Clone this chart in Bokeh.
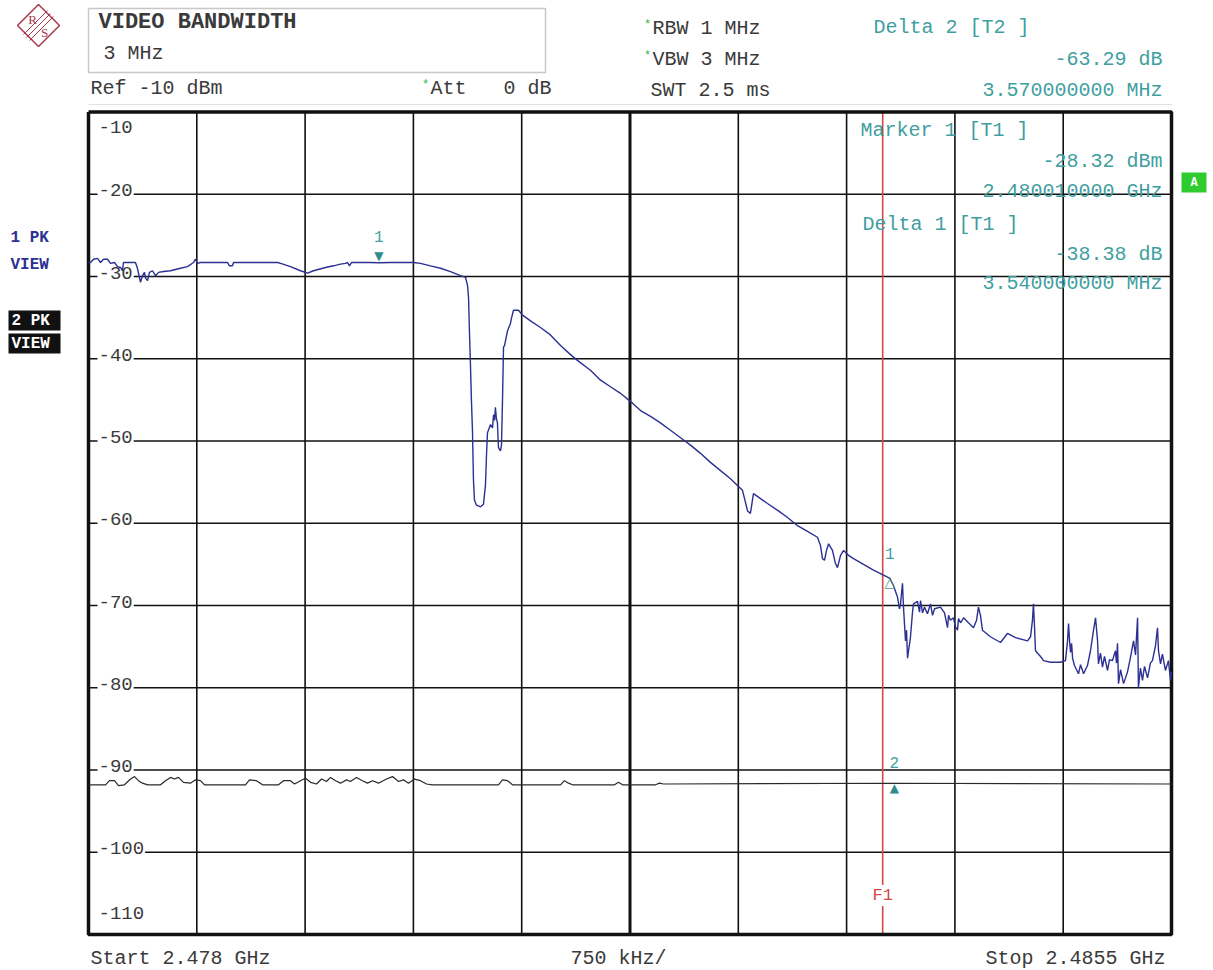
from bokeh.plotting import figure
from bokeh.models import Range1d
from bokeh.core.properties import value
from bokeh.embed import file_html
from bokeh.resources import INLINE

# ---------------- instrument settings ----------------
f_start_mhz = 2478.0
f_stop_mhz = 2485.5
f_span_div_mhz = 0.75
ref_level_dbm = -10.0
db_per_div = 10.0
n_div = 10
f1_line_mhz = 2483.5

# ---------------- trace 1 (clear/write, peak) ----------------
t1_freq_mhz = [
    2478.000, 2478.014, 2478.035, 2478.062, 2478.083, 2478.104, 2478.132, 2478.152,
    2478.180, 2478.201, 2478.222, 2478.235, 2478.242, 2478.277, 2478.305, 2478.325,
    2478.339, 2478.360, 2478.374, 2478.388, 2478.395, 2478.409, 2478.422, 2478.443,
    2478.464, 2478.485, 2478.519, 2478.568, 2478.637, 2478.686, 2478.727, 2478.741,
    2478.755, 2478.776, 2478.845, 2478.963, 2478.976, 2478.997, 2479.004, 2479.122,
    2479.309, 2479.330, 2479.399, 2479.468, 2479.517, 2479.558, 2479.641, 2479.697,
    2479.745, 2479.780, 2479.794, 2479.807, 2479.821, 2479.835, 2479.953, 2480.010,
    2480.091, 2480.251, 2480.299, 2480.368, 2480.438, 2480.507, 2480.576, 2480.611,
    2480.625, 2480.632, 2480.638, 2480.645, 2480.652, 2480.659, 2480.666, 2480.673,
    2480.687, 2480.715, 2480.735, 2480.749, 2480.756, 2480.763, 2480.784, 2480.798,
    2480.805, 2480.812, 2480.818, 2480.825, 2480.832, 2480.839, 2480.853, 2480.860,
    2480.867, 2480.874, 2480.881, 2480.895, 2480.902, 2480.909, 2480.922, 2480.929,
    2480.943, 2480.978, 2480.992, 2481.006, 2481.061, 2481.130, 2481.199, 2481.269,
    2481.338, 2481.386, 2481.476, 2481.546, 2481.615, 2481.684, 2481.767, 2481.823,
    2481.892, 2481.961, 2482.030, 2482.100, 2482.169, 2482.238, 2482.307, 2482.377,
    2482.446, 2482.494, 2482.529, 2482.550, 2482.564, 2482.584, 2482.598, 2482.605,
    2482.654, 2482.702, 2482.778, 2482.841, 2482.910, 2482.979, 2483.048, 2483.069,
    2483.083, 2483.097, 2483.111, 2483.125, 2483.152, 2483.173, 2483.187, 2483.208,
    2483.229, 2483.263, 2483.298, 2483.367, 2483.436, 2483.506, 2483.550, 2483.575,
    2483.603, 2483.616, 2483.623, 2483.637, 2483.644, 2483.658, 2483.665, 2483.672,
    2483.679, 2483.692, 2483.706, 2483.713, 2483.741, 2483.755, 2483.762, 2483.776,
    2483.789, 2483.810, 2483.831, 2483.845, 2483.859, 2483.900, 2483.928, 2483.949,
    2483.956, 2483.969, 2483.990, 2484.004, 2484.018, 2484.025, 2484.039, 2484.060,
    2484.094, 2484.129, 2484.150, 2484.163, 2484.177, 2484.191, 2484.246, 2484.316,
    2484.364, 2484.420, 2484.503, 2484.524, 2484.537, 2484.544, 2484.551, 2484.558,
    2484.593, 2484.614, 2484.662, 2484.731, 2484.766, 2484.780, 2484.787, 2484.794,
    2484.801, 2484.808, 2484.815, 2484.828, 2484.856, 2484.870, 2484.891, 2484.918,
    2484.939, 2484.960, 2484.974, 2484.988, 2484.994, 2485.008, 2485.022, 2485.036,
    2485.057, 2485.070, 2485.091, 2485.112, 2485.119, 2485.126, 2485.133, 2485.147,
    2485.168, 2485.195, 2485.216, 2485.237, 2485.251, 2485.265, 2485.271, 2485.285,
    2485.299, 2485.313, 2485.334, 2485.354, 2485.368, 2485.389, 2485.403, 2485.410,
    2485.424, 2485.437, 2485.458, 2485.479, 2485.493, 2485.500,
]
t1_level_dbm = [
    -28.3, -28.3, -27.9, -27.8, -28.3, -27.9, -27.9, -28.4,
    -28.3, -28.8, -28.9, -29.3, -28.3, -28.3, -28.3, -28.3,
    -29.0, -30.7, -29.9, -29.5, -30.2, -30.5, -29.5, -29.3,
    -29.9, -29.5, -29.4, -29.3, -29.0, -28.8, -28.3, -27.9,
    -28.4, -28.3, -28.3, -28.3, -28.7, -28.7, -28.3, -28.3,
    -28.3, -28.4, -28.8, -29.3, -29.6, -29.3, -28.9, -28.7,
    -28.5, -28.4, -28.3, -28.7, -28.3, -28.3, -28.3, -28.32,
    -28.3, -28.3, -28.4, -28.7, -29.0, -29.4, -29.9, -30.1,
    -31.1, -32.6, -36.6, -40.6, -45.1, -48.7, -54.8, -57.2,
    -57.8, -58.0, -57.7, -55.4, -51.8, -49.0, -48.0, -48.4,
    -46.8, -47.5, -45.9, -47.3, -47.8, -50.8, -51.2, -50.5,
    -45.1, -38.6, -38.4, -37.2, -36.6, -36.3, -35.7, -35.1,
    -34.1, -34.1, -34.4, -34.7, -35.4, -36.2, -37.1, -38.4,
    -39.5, -40.2, -41.4, -42.6, -43.4, -44.2, -45.4, -46.3,
    -47.0, -47.8, -48.7, -49.6, -50.5, -51.5, -52.6, -53.6,
    -54.6, -55.4, -56.0, -57.5, -58.5, -58.8, -57.2, -56.4,
    -57.0, -57.6, -58.5, -59.3, -60.3, -61.0, -61.7, -62.7,
    -64.3, -64.5, -63.3, -62.5, -63.3, -64.9, -65.4, -63.9,
    -63.3, -63.9, -64.3, -65.0, -65.7, -66.3, -66.70, -67.6,
    -69.0, -70.4, -69.9, -67.3, -70.2, -74.3, -73.0, -76.4,
    -75.5, -73.9, -70.9, -69.8, -69.5, -70.8, -69.4, -70.9,
    -70.2, -71.0, -69.8, -71.2, -70.4, -70.2, -70.9, -72.7,
    -71.2, -71.8, -71.5, -72.6, -73.0, -71.6, -72.1, -71.5,
    -72.1, -72.7, -71.8, -70.2, -71.2, -73.0, -73.8, -74.5,
    -73.4, -73.9, -74.3, -73.8, -71.8, -69.8, -72.4, -75.5,
    -76.2, -76.7, -76.9, -76.9, -76.7, -74.3, -72.2, -74.3,
    -75.7, -74.6, -76.4, -77.3, -78.3, -77.2, -78.3, -77.3,
    -75.5, -73.0, -71.5, -74.3, -77.1, -75.8, -77.5, -76.2,
    -77.9, -76.6, -76.7, -75.5, -77.0, -74.6, -79.5, -77.8,
    -79.5, -78.1, -76.3, -74.3, -76.0, -71.5, -80.0, -77.6,
    -79.1, -77.4, -78.8, -77.0, -76.7, -74.9, -72.7, -75.5,
    -77.1, -75.9, -77.9, -76.7, -79.1, -78.1,
]

# ---------------- trace 2 (view, noise floor) ----------------
t2_freq_mhz = [
    2478.000, 2478.118, 2478.145, 2478.180, 2478.208, 2478.249, 2478.291, 2478.319,
    2478.346, 2478.374, 2478.409, 2478.499, 2478.533, 2478.568, 2478.596, 2478.623,
    2478.658, 2478.706, 2478.741, 2478.776, 2478.803, 2479.087, 2479.115, 2479.163,
    2479.205, 2479.316, 2479.350, 2479.399, 2479.427, 2479.468, 2479.503, 2479.538,
    2479.579, 2479.614, 2479.648, 2479.676, 2479.711, 2479.745, 2479.787, 2479.814,
    2479.856, 2479.897, 2479.932, 2479.967, 2480.008, 2480.064, 2480.105, 2480.147,
    2480.181, 2480.216, 2480.258, 2480.299, 2480.341, 2480.382, 2480.839, 2480.867,
    2480.902, 2480.936, 2481.269, 2481.296, 2481.324, 2481.352, 2481.643, 2481.670,
    2481.698, 2481.927, 2481.954, 2481.982, 2483.580, 2485.500,
]
t2_level_dbm = [
    -91.8, -91.8, -91.3, -91.3, -91.9, -91.8, -91.1, -90.8,
    -91.3, -91.6, -91.8, -91.8, -91.3, -90.9, -91.1, -90.9,
    -91.5, -91.6, -91.2, -91.3, -91.8, -91.8, -91.2, -91.3,
    -91.8, -91.8, -91.3, -91.3, -91.7, -91.3, -91.0, -91.5,
    -91.7, -91.1, -91.4, -90.9, -91.3, -91.6, -91.2, -91.4,
    -90.9, -91.3, -91.6, -91.3, -91.6, -91.1, -90.8, -91.4,
    -91.2, -91.6, -91.1, -91.3, -91.7, -91.8, -91.8, -91.2,
    -91.3, -91.8, -91.8, -91.3, -91.6, -91.8, -91.8, -91.5,
    -91.8, -91.8, -91.6, -91.7, -91.61, -91.7,
]

# ---------------- markers ----------------
marker_freq_mhz = [2480.010, 2483.550, 2483.580]
marker_level_dbm = [-28.32, -66.70, -91.61]

# ---------------- page geometry (pixels) ----------------
W, H = 1213, 970
FL, FR, FT, FB = 88.0, 1171.0, 111.5, 934.0

top_lvl = ref_level_dbm
bot_lvl = ref_level_dbm - db_per_div * n_div
mhz_per_px = (f_stop_mhz - f_start_mhz) / (FR - FL)
db_per_px = (top_lvl - bot_lvl) / (FB - FT)


def X(px):
    return f_start_mhz + (px - FL) * mhz_per_px


def Y(py):
    return top_lvl - (py - FT) * db_per_px


p = figure(width=W, height=H,
           x_range=Range1d(X(0), X(W)), y_range=Range1d(Y(H), Y(0)),
           min_border=0, x_axis_location=None, y_axis_location=None,
           toolbar_location=None, output_backend="svg")
p.grid.visible = False
p.outline_line_color = None
p.background_fill_color = "white"
p.border_fill_color = "white"

MONO = value("Liberation Mono")
DARK = "#3a3a3a"
TEAL = "#3f9f9f"
NAVY = "#2b3092"
RED = "#d04848"
GREEN = "#3cb043"
FS = "20px"


def txt(px, py, s, color=DARK, align="left", size=FS, style="normal", **kw):
    p.text(x=[X(px)], y=[Y(py)], text=[s], text_font=MONO, text_font_size=size,
           text_color=color, text_align=align, text_baseline="middle",
           text_font_style=style, **kw)


# ---------------- grid ----------------
grid_f = [f_start_mhz + f_span_div_mhz * i for i in range(1, n_div)]
centre_f = f_start_mhz + f_span_div_mhz * (n_div // 2)
thin_f = [f for f in grid_f if abs(f - centre_f) > 1e-9]
p.segment(x0=thin_f, y0=[bot_lvl] * len(thin_f), x1=thin_f, y1=[top_lvl] * len(thin_f),
          line_color="#111111", line_width=1.6)
p.segment(x0=[centre_f], y0=[bot_lvl], x1=[centre_f], y1=[top_lvl],
          line_color="#111111", line_width=3)

grid_lvl = [top_lvl - db_per_div * i for i in range(1, n_div)]
p.segment(x0=[f_start_mhz] * len(grid_lvl), y0=grid_lvl,
          x1=[f_stop_mhz] * len(grid_lvl), y1=grid_lvl,
          line_color="#111111", line_width=1.6)

# level labels
lbl_lvls = [top_lvl - db_per_div * i for i in range(0, n_div + 1)]
for lv in lbl_lvls:
    if lv == top_lvl:
        off = 15
    elif lv == bot_lvl:
        off = -22
    else:
        off = -4
    p.text(x=[X(97)], y=[lv], text=[f"{lv:.0f}"], text_font=MONO, text_font_size="19px",
           text_color=DARK, text_align="left", text_baseline="middle", y_offset=off,
           background_fill_color="white", padding=1)

# F1 frequency line
p.segment(x0=[f1_line_mhz], y0=[bot_lvl], x1=[f1_line_mhz], y1=[top_lvl],
          line_color=RED, line_width=1.6)
p.text(x=[f1_line_mhz], y=[Y(895)], text=["F1"], text_font=MONO, text_font_size="17px",
       text_color=RED, text_align="center", text_baseline="middle",
       background_fill_color="white", padding=1)

# frame
p.line(x=[f_start_mhz, f_stop_mhz, f_stop_mhz, f_start_mhz, f_start_mhz],
       y=[top_lvl, top_lvl, bot_lvl, bot_lvl, top_lvl],
       line_color="#111111", line_width=3.5)

# ---------------- traces ----------------
p.line(x=t2_freq_mhz, y=t2_level_dbm, line_color="#2a2a2a", line_width=1.2)
p.line(x=t1_freq_mhz, y=t1_level_dbm, line_color=NAVY, line_width=1.4)

# ---------------- markers ----------------
SYM = value("DejaVu Sans")
p.text(x=[marker_freq_mhz[0]], y=[marker_level_dbm[0]], text=["\u25BC"], text_font=SYM,
       text_font_size="12px", text_color="#2e8c8c", text_align="center",
       text_baseline="middle", y_offset=-7)
p.text(x=[marker_freq_mhz[0]], y=[marker_level_dbm[0]], text=["1"], text_font=MONO,
       text_font_size="16px", text_color=TEAL, text_align="center",
       text_baseline="middle", y_offset=-26)
p.text(x=[marker_freq_mhz[1]], y=[marker_level_dbm[1]], text=["\u25B3"], text_font=SYM,
       text_font_size="14px", text_color="#5a9a8a", text_align="center",
       text_baseline="middle", y_offset=4)
p.text(x=[marker_freq_mhz[1]], y=[marker_level_dbm[1]], text=["1"], text_font=MONO,
       text_font_size="16px", text_color=TEAL, text_align="center",
       text_baseline="middle", y_offset=-25)
p.text(x=[marker_freq_mhz[2]], y=[marker_level_dbm[2]], text=["\u25B2"], text_font=SYM,
       text_font_size="12px", text_color="#2e8c8c", text_align="center",
       text_baseline="middle", y_offset=5)
p.text(x=[marker_freq_mhz[2]], y=[marker_level_dbm[2]], text=["2"], text_font=MONO,
       text_font_size="16px", text_color=TEAL, text_align="center",
       text_baseline="middle", y_offset=-21)

# marker readouts
m1_f, d1_f, d2_f = marker_freq_mhz
m1_l, d1_l, d2_l = marker_level_dbm
txt(860, 130, "Marker 1 [T1 ]", TEAL)
txt(1162, 161, f"{m1_l:.2f} dBm", TEAL, "right")
txt(1162, 191, f"{m1_f / 1000:.9f} GHz", TEAL, "right")
txt(862, 224, "Delta 1 [T1 ]", TEAL)
txt(1162, 254, f"{d1_l - m1_l:.2f} dB", TEAL, "right")
txt(1162, 283, f"{d1_f - m1_f:.9f} MHz", TEAL, "right")
txt(873, 27, "Delta 2 [T2 ]", TEAL)
txt(1162, 59, f"{d2_l - m1_l:.2f} dB", TEAL, "right")
txt(1162, 90, f"{d2_f - m1_f:.9f} MHz", TEAL, "right")

# ---------------- header ----------------
# R&S logo
lx, ly, lr = 38, 25, 21
p.patch(x=[X(lx), X(lx + lr), X(lx), X(lx - lr)], y=[Y(ly - lr), Y(ly), Y(ly + lr), Y(ly)],
        fill_color=None, line_color="#a8384a", line_width=1.5)
for d in (-3, 0, 3):
    p.line(x=[X(lx - 12 + d), X(lx + 12 + d)], y=[Y(ly + 12 + d), Y(ly - 12 + d)],
           line_color="#a8384a", line_width=1)
p.text(x=[X(lx - 6), X(lx + 6)], y=[Y(ly - 6), Y(ly + 7)], text=["R", "S"],
       text_font=value("Liberation Serif"), text_font_size="13px", text_color="#a8384a",
       text_align="center", text_baseline="middle")

# settings box
p.line(x=[X(88), X(545), X(545), X(88), X(88)], y=[Y(8), Y(8), Y(72), Y(72), Y(8)],
       line_color="#c8c8c8", line_width=1.5)
txt(98, 22, "VIDEO BANDWIDTH", DARK, size="22px", style="bold")
txt(103, 53, "3 MHz")
txt(90, 88, "Ref -10 dBm")
txt(430, 88, "Att")
txt(503, 88, "0 dB")
txt(652, 28, "RBW 1 MHz")
txt(652, 59, "VBW 3 MHz")
txt(650, 90, "SWT 2.5 ms")
for (gx, gy) in ((425, 84), (647, 24), (647, 55)):
    txt(gx, gy, "*", GREEN, "center", size="12px")
p.line(x=[X(88), X(1172)], y=[Y(104), Y(104)], line_color="#e2e2e2", line_width=1)

# trace labels at left
txt(10, 237, "1 PK", NAVY, size="16px", style="bold")
txt(10, 264, "VIEW", NAVY, size="16px", style="bold")
p.quad(left=[X(8), X(8)], right=[X(60), X(60)], top=[Y(310), Y(333)],
       bottom=[Y(330), Y(353)], fill_color="#111111", line_color=None)
txt(11, 320, "2 PK", "white", size="16px", style="bold")
txt(11, 343, "VIEW", "white", size="16px", style="bold")

# status box on right
p.quad(left=[X(1181)], right=[X(1206)], top=[Y(172)], bottom=[Y(192)],
       fill_color="#2ecc2e", line_color=None)
txt(1193.5, 182, "A", "white", "center", size="12px", style="bold")

# ---------------- footer ----------------
txt(90, 958, f"Start {f_start_mhz / 1000:.3f} GHz")
txt(570, 958, f"{f_span_div_mhz * 1000:.0f} kHz/")
txt(1165, 958, f"Stop {f_stop_mhz / 1000:.4f} GHz", align="right")

open("out.html", "w").write(file_html(p, INLINE))
